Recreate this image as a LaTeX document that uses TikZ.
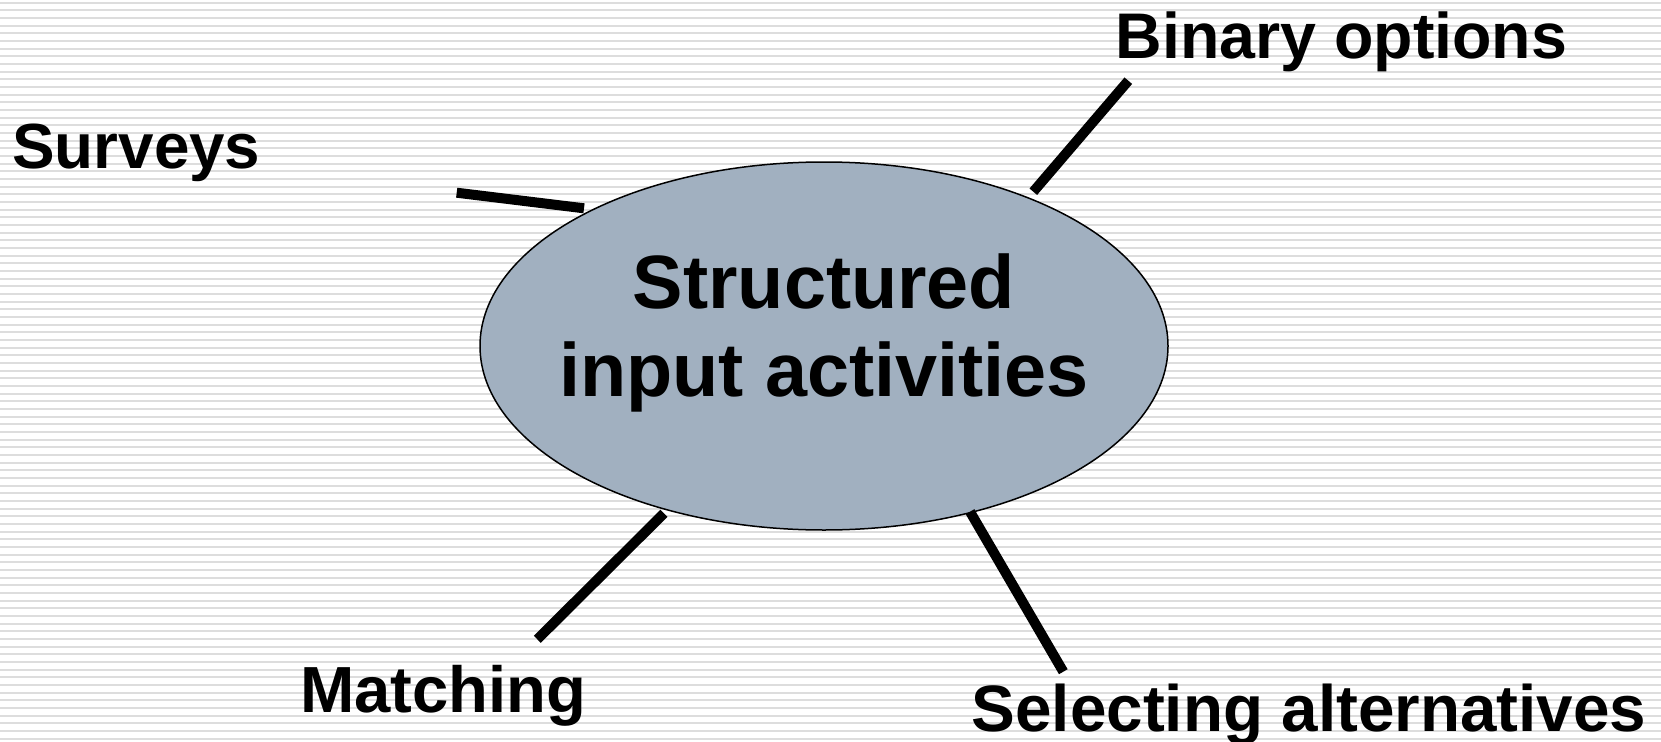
\documentclass[tikz,border=0pt]{standalone}
\usepackage{fontspec}
\setmainfont{Liberation Sans}
\usetikzlibrary{shapes.geometric}
\definecolor{stripe}{RGB}{221,221,221}
\definecolor{ovalfill}{RGB}{161,176,192}
\tikzset{
  lbl/.style={anchor=base west, inner sep=0pt, font=\bfseries\fontsize{64.5}{75}\selectfont},
  spoke/.style={line width=10pt, line cap=butt},
  oval/.style={ellipse, draw=black, line width=1.5pt, fill=ovalfill, minimum width=688pt, minimum height=368pt, inner sep=0pt},
}
\begin{document}
\begin{tikzpicture}[x=1pt,y=-1pt]
\useasboundingbox (0,0) rectangle (1661,741);
\fill[white] (0,0) rectangle (1661,741);
\foreach \i in {0,...,96} { \fill[stripe] (0,{1.7+7.667*\i}) rectangle (1661,{3.7+7.667*\i}); }
\node[oval] (core) at (824,346) {};
\node[align=center, inner sep=0pt, font=\bfseries\fontsize{75.6}{88}\selectfont] (title) at (824,333) {Structured\\input activities};
\node[lbl, font=\bfseries\fontsize{63.8}{75}\selectfont] (surveys) at (12,168.3) {Surveys};
\node[lbl, font=\bfseries\fontsize{64.5}{75}\selectfont] (binary) at (1115.5,59) {Binary options};
\node[lbl, font=\bfseries\fontsize{65.2}{75}\selectfont] (matching) at (300,712.7) {Matching};
\node[lbl, font=\bfseries\fontsize{65.6}{75}\selectfont] (selecting) at (971.5,731) {Selecting alternatives};
\coordinate (s1a) at (456.7,192.7); \coordinate (s1b) at (584,208.3);
\coordinate (s2a) at (1033.3,191.7); \coordinate (s2b) at (1128.3,80.7);
\coordinate (s3a) at (664,513.3); \coordinate (s3b) at (537.3,639.3);
\coordinate (s4a) at (970,511.7); \coordinate (s4b) at (1063.3,671.7);
\draw[spoke] (s1a) -- (s1b);
\draw[spoke] (s2a) -- (s2b);
\draw[spoke] (s3a) -- (s3b);
\draw[spoke] (s4a) -- (s4b);
\end{tikzpicture}
\end{document}
